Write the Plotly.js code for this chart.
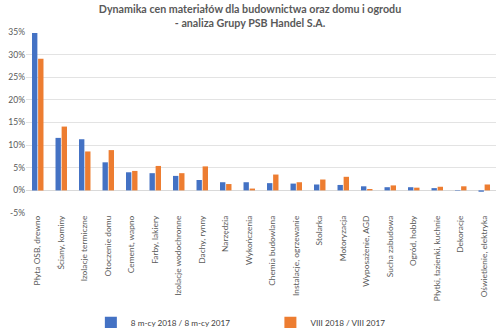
<!DOCTYPE html>
<html><head><meta charset="utf-8">
<script src="https://cdn.plot.ly/plotly-3.0.1.min.js"></script>
<style>html,body{margin:0;padding:0;background:#fff}#c{width:500px;height:328px}</style>
</head><body><div id="c"></div>
<script>
const categories = ["Płyta OSB, drewno","Ściany, kominy","Izolacje termiczne","Otoczenie domu","Cement, wapno","Farby, lakiery","Izolacje wodochronne","Dachy, rynny","Narzędzia","Wykończenia","Chemia budowlana","Instalacje, ogrzewanie","Stolarka","Motoryzacja","Wyposażenie, AGD","Sucha zabudowa","Ogród, hobby","Płytki, łazienki, kuchnie","Dekoracje","Oświetlenie, elektryka"];
const series1Name = "8 m-cy 2018 / 8 m-cy 2017";
const series2Name = "VIII 2018 / VIII 2017";
const series1 = [0.348,0.116,0.113,0.062,0.040,0.038,0.032,0.023,0.018,0.018,0.016,0.015,0.013,0.012,0.009,0.007,0.007,0.005,-0.001,-0.003];
const series2 = [0.291,0.141,0.086,0.089,0.043,0.054,0.038,0.053,0.014,0.004,0.035,0.018,0.024,0.030,0.003,0.011,0.006,0.008,0.009,0.013];
const yTicks = [-0.05,0,0.05,0.10,0.15,0.20,0.25,0.30,0.35];
const yTickText = ["-5%","0%","5%","10%","15%","20%","25%","30%","35%"];

const font = "Lato, 'Open Sans', sans-serif";
const gd = document.getElementById("c");
Plotly.newPlot(gd, [
  {type:"bar", name:series1Name, x:categories, y:series1, marker:{color:"#4472C4"}, legend:"legend"},
  {type:"bar", name:series2Name, x:categories, y:series2, marker:{color:"#ED7D31"}, legend:"legend2"}
], {
  width:500, height:328,
  margin:{l:26, r:4, t:32, b:115},
  paper_bgcolor:"#fff", plot_bgcolor:"#fff",
  font:{family:font, color:"#595959", size:8.5},
  title:{text:"<b>Dynamika cen materiałów dla budownictwa oraz domu i ogrodu<br>- analiza Grupy PSB Handel S.A.</b>", x:0.5, xanchor:"center", yref:"container", y:0.96, yanchor:"middle", font:{family:font, size:10.7, color:"#595959"}},
  barmode:"group", bargap:0.48, bargroupgap:0.12,
  xaxis:{tickangle:-90, tickfont:{size:8.4}, showgrid:false, showline:false, ticks:"", automargin:false},
  yaxis:{range:[-0.05,0.35], tickvals:yTicks, ticktext:yTickText, showgrid:true, gridcolor:"#e3e3e3", gridwidth:1, zeroline:true, zerolinecolor:"#d9d9d9", zerolinewidth:1, showline:false, ticks:"", automargin:false, tickfont:{size:8.5}},
  showlegend:true,
  legend:{orientation:"h", x:0.138, xanchor:"left", yref:"container", y:0.016, yanchor:"middle", font:{size:8.2, color:"#404040"}, itemwidth:30},
  legend2:{orientation:"h", x:0.52, xanchor:"left", yref:"container", y:0.016, yanchor:"middle", font:{size:8.2, color:"#404040"}, itemwidth:30}
}, {displayModeBar:false, staticPlot:true});
</script></body></html>
